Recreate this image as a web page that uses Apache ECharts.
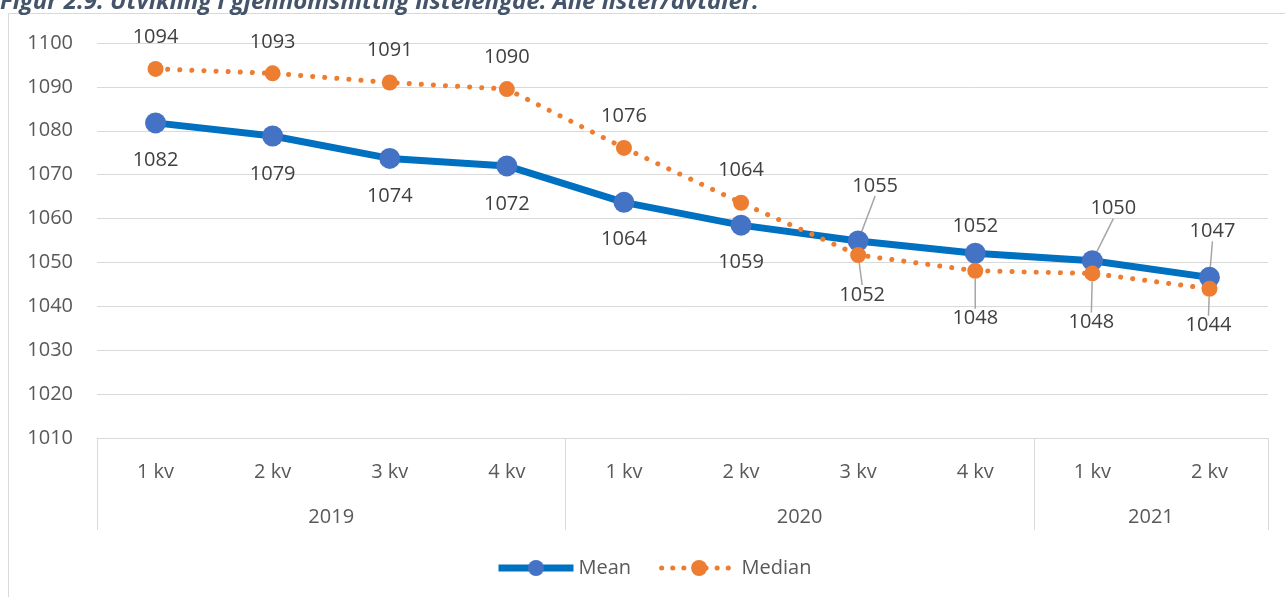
<!DOCTYPE html>
<html>
<head>
<meta charset="utf-8">
<script src="https://cdn.jsdelivr.net/npm/echarts@6/dist/echarts.min.js"></script>
<style>
html,body{margin:0;padding:0;background:#fff;}
#chart{width:1285px;height:597px;}
</style>
</head>
<body>
<div id="chart"></div>
<script>
// ---- data ----
var quarters = ['1 kv','2 kv','3 kv','4 kv','1 kv','2 kv','3 kv','4 kv','1 kv','2 kv'];
var years = ['2019','2020','2021'];
var yearStart = [0, 4, 8];      // first category index of each year
var yearLength = [4, 4, 2];     // number of quarters in each year
var meanValues = [1081.8, 1078.8, 1073.7, 1072.0, 1063.7, 1058.5, 1054.9, 1052.1, 1050.4, 1046.6];
var medianValues = [1094.1, 1093.1, 1091.0, 1089.5, 1076.1, 1063.6, 1051.7, 1048.1, 1047.5, 1044.0];
var yTicks = {min: 1010, max: 1100, interval: 10};

// ---- label layout (style, not data) ----
var meanOffsets = [[0,37],[0,38],[0,38],[0,38],[0,37],[0,37],[17,-55],[0,-27],[21,-52],[3,-46]];
var medianOffsets = [[0,-32],[0,-31],[0,-32],[0,-32],[0,-32],[0,-32],[4,40],[0,48],[-1,49],[-1,37]];
var meanLeaders = [6, 8, 9];
var medianLeaders = [6, 7, 8, 9];

var FONT = '"Open Sans", "Noto Sans", sans-serif';

var yearLabelPos = {};
years.forEach(function (y, i) { yearLabelPos[yearStart[i] + yearLength[i] / 2] = y; });
var boundaries = {};
yearStart.forEach(function (s) { boundaries[s] = true; });

function buildData(values, leaders) {
  return values.map(function (v, i) {
    return {value: v, labelLine: {show: leaders.indexOf(i) >= 0}};
  });
}
function layoutFn(offsets) {
  return function (p) {
    var o = offsets[p.dataIndex];
    return {
      x: p.rect.x + p.rect.width / 2 + o[0],
      y: p.rect.y + p.rect.height / 2 + o[1],
      align: 'center',
      verticalAlign: 'middle'
    };
  };
}

var chart = echarts.init(document.getElementById('chart'), null, {renderer: 'canvas'});
chart.setOption({
  animation: false,
  backgroundColor: '#ffffff',
  textStyle: {fontFamily: FONT},
  graphic: [
    {type: 'rect', shape: {x: 8.5, y: 13.5, width: 1290, height: 600},
     style: {fill: 'none', stroke: '#d9d9d9', lineWidth: 1}, silent: true, z: -10},
    {type: 'text', x: 0, y: 14,
     style: {text: 'Figur 2.9: Utvikling i gjennomsnittlig listelengde. Alle lister/avtaler.',
             fill: '#44546A', font: 'italic bold 24px ' + FONT, textVerticalAlign: 'bottom'}}
  ],
  grid: {left: 97, right: 17, top: 43, bottom: 159, containLabel: false},
  legend: {
    top: 553, left: 490,
    itemWidth: 75, itemHeight: 20, itemGap: 28,
    textStyle: {fontSize: 20, color: '#595959', fontFamily: FONT},
    data: [
      {name: 'Mean', lineStyle: {width: 7, color: '#0070C0'}},
      {name: 'Median', lineStyle: {width: 5, color: '#ED7D31', type: [0.1, 11], cap: 'round'}}
    ]
  },
  xAxis: [
    {
      type: 'category', data: quarters, boundaryGap: true,
      axisLine: {show: true, lineStyle: {color: '#d9d9d9', width: 1}},
      axisTick: {show: true, length: 92, lineStyle: {color: '#d9d9d9', width: 1},
                 interval: function (i) { return !!boundaries[i]; }},
      axisLabel: {fontSize: 20, color: '#595959', margin: 24, fontFamily: FONT, interval: 0},
      splitLine: {show: false}
    },
    {
      type: 'value', position: 'bottom', min: 0, max: quarters.length, interval: 1,
      axisLine: {show: false}, axisTick: {show: false}, splitLine: {show: false},
      axisLabel: {fontSize: 20, color: '#595959', margin: 69, fontFamily: FONT,
                  showMinLabel: true, showMaxLabel: true,
                  formatter: function (v) { return yearLabelPos[v] || ''; }}
    }
  ],
  yAxis: {
    type: 'value', min: yTicks.min, max: yTicks.max, interval: yTicks.interval,
    axisLine: {show: false}, axisTick: {show: false},
    axisLabel: {fontSize: 20, color: '#595959', margin: 24, fontFamily: FONT,
                formatter: function (v) { return String(v); }},
    splitLine: {lineStyle: {color: '#d9d9d9', width: 1}}
  },
  series: [
    {
      name: 'Mean', type: 'line', xAxisIndex: 0,
      data: buildData(meanValues, meanLeaders),
      symbol: 'circle', symbolSize: 21,
      lineStyle: {color: '#0070C0', width: 7},
      itemStyle: {color: '#4472C4'},
      label: {show: true, fontSize: 20, color: '#404040', fontFamily: FONT,
              formatter: function (p) { return Math.round(p.value); }},
      labelLine: {show: false, lineStyle: {color: '#a6a6a6', width: 1.5}},
      labelLayout: layoutFn(meanOffsets),
      z: 2
    },
    {
      name: 'Median', type: 'line', xAxisIndex: 0,
      data: buildData(medianValues, medianLeaders),
      symbol: 'circle', symbolSize: 16,
      lineStyle: {color: '#ED7D31', width: 5, type: [0.1, 12], cap: 'round'},
      itemStyle: {color: '#ED7D31'},
      label: {show: true, fontSize: 20, color: '#404040', fontFamily: FONT,
              formatter: function (p) { return Math.round(p.value); }},
      labelLine: {show: false, lineStyle: {color: '#a6a6a6', width: 1.5}},
      labelLayout: layoutFn(medianOffsets),
      z: 3
    }
  ]
});
</script>
</body>
</html>
